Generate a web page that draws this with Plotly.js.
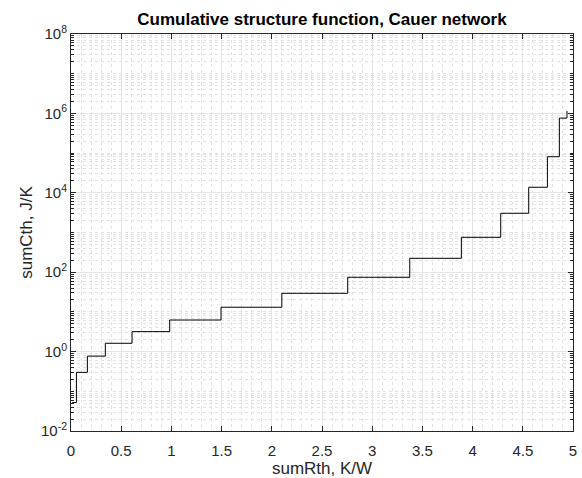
<!DOCTYPE html>
<html>
<head>
<meta charset="utf-8">
<script src="https://cdn.plot.ly/plotly-3.0.1.min.js"></script>
<style>html,body{margin:0;padding:0;background:#fff;}#chart{width:582px;height:478px;}</style>
</head>
<body>
<div id="chart"></div>
<script>
// Cumulative thermal resistance (K/W) at each step start
const sumRth = [0.012, 0.054, 0.163, 0.342, 0.608, 0.983, 1.494, 2.100, 2.756, 3.374, 3.888, 4.280, 4.559, 4.745, 4.864, 4.940];
// Cumulative thermal capacitance (J/K) level starting at each sumRth
const sumCth = [0.052, 0.30, 0.77, 1.62, 3.18, 6.25, 13.1, 29.4, 74.5, 224, 757, 3050, 13800, 81000, 760000, 1150000];

const xTickVals = [0, 0.5, 1, 1.5, 2, 2.5, 3, 3.5, 4, 4.5, 5];
const xTickText = ['0', '0.5', '1', '1.5', '2', '2.5', '3', '3.5', '4', '4.5', '5'];
const yTickVals = [1e-2, 1e0, 1e2, 1e4, 1e6, 1e8];
const yTickText = ['10<sup>-2</sup>', '10<sup>0</sup>', '10<sup>2</sup>', '10<sup>4</sup>', '10<sup>6</sup>', '10<sup>8</sup>'];

const axisColor = '#262626';
const majorGrid = '#e4e4e4';
const minorGrid = '#e2e2e2';
const fontFam = 'Liberation Sans, Arial, sans-serif';

const trace = {
  x: sumRth,
  y: sumCth,
  type: 'scatter',
  mode: 'lines',
  line: {shape: 'hv', color: '#000000', width: 1},
  hoverinfo: 'skip'
};

const layout = {
  width: 582,
  height: 478,
  margin: {l: 71, r: 9, t: 34, b: 47},
  paper_bgcolor: '#ffffff',
  plot_bgcolor: '#ffffff',
  showlegend: false,
  font: {family: fontFam, color: axisColor, size: 15},
  title: {
    text: '<b>Cumulative structure function, Cauer network</b>',
    font: {family: fontFam, size: 17, color: '#000000'},
    x: 0.5, xanchor: 'center', xref: 'paper',
    y: 1 - 19/478, yanchor: 'middle', yref: 'container'
  },
  xaxis: {
    range: [0, 5],
    tickmode: 'array',
    tickvals: xTickVals,
    ticktext: xTickText,
    ticks: 'inside',
    ticklen: 5,
    tickcolor: axisColor,
    tickfont: {family: fontFam, size: 15, color: axisColor},
    ticklabelstandoff: 6,
    showline: true,
    linecolor: axisColor,
    linewidth: 1,
    mirror: 'allticks',
    showgrid: true,
    gridcolor: majorGrid,
    gridwidth: 1,
    zeroline: false,
    minor: {dtick: 0.1, showgrid: true, gridcolor: minorGrid, griddash: 'dot', gridwidth: 1, ticks: ''},
    title: {text: 'sumRth, K/W', font: {family: fontFam, size: 17, color: axisColor}, standoff: 3}
  },
  yaxis: {
    type: 'log',
    range: [-2, 8],
    tickmode: 'array',
    tickvals: yTickVals,
    ticktext: yTickText,
    ticks: 'inside',
    ticklen: 5,
    tickcolor: axisColor,
    tickfont: {family: fontFam, size: 15, color: axisColor},
    showline: true,
    linecolor: axisColor,
    linewidth: 1,
    mirror: 'allticks',
    showgrid: true,
    gridcolor: majorGrid,
    gridwidth: 1,
    zeroline: false,
    minor: {dtick: 'D1', showgrid: true, gridcolor: minorGrid, griddash: 'dot', gridwidth: 1, ticks: 'inside', ticklen: 3, tickcolor: axisColor},
    title: {text: 'sumCth, J/K', font: {family: fontFam, size: 17, color: axisColor}, standoff: 4}
  }
};

Plotly.newPlot('chart', [trace], layout, {displayModeBar: false, staticPlot: true});
</script>
</body>
</html>
